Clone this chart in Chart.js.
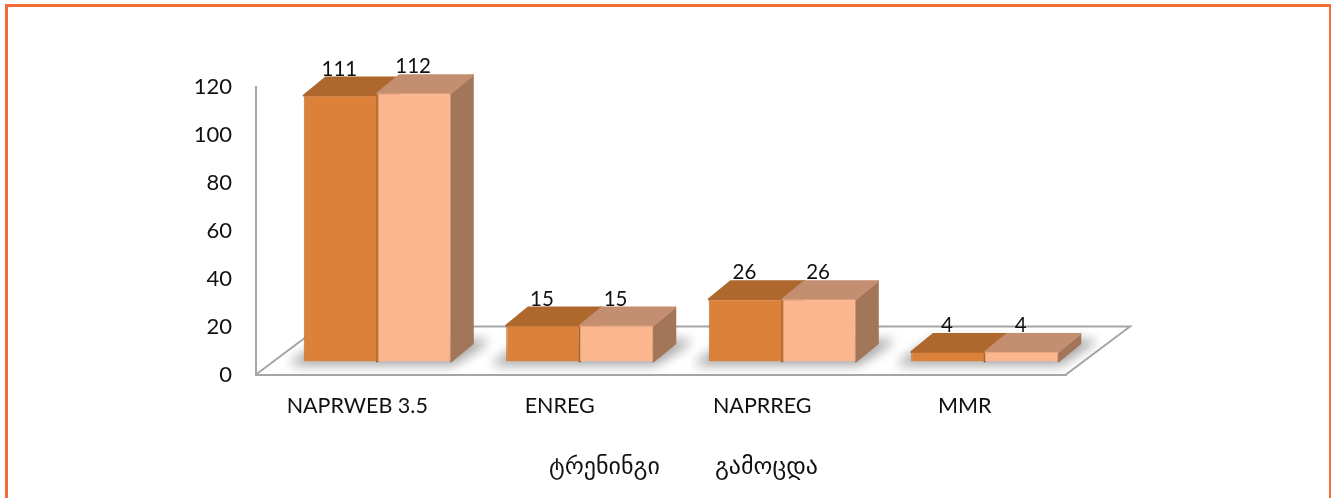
<!DOCTYPE html>
<html>
<head>
<meta charset="utf-8">
<script src="https://cdn.jsdelivr.net/npm/chart.js@4/dist/chart.umd.js"></script>
<style>
html,body{margin:0;padding:0;background:#fff;overflow:hidden}
#wrap{position:absolute;left:0;top:0;width:1331px;height:498px}
#frame{position:absolute;left:5px;top:4px;width:1326px;height:494px;border:solid #F26B38;border-width:3px 2px 0 3px;box-sizing:border-box;pointer-events:none}
canvas{position:absolute;left:0;top:0}
</style>
</head>
<body>
<div id="wrap"><canvas id="c" width="1331" height="498"></canvas><div id="frame"></div></div>
<script>
const categories = ["NAPRWEB 3.5", "ENREG", "NAPRREG", "MMR"];
const trainingValues = [111, 15, 26, 4];
const examValues = [112, 15, 26, 4];
const seriesNames = ["ტრენინგი", "გამოცდა"];
const yTicks = [0, 20, 40, 60, 80, 100, 120];

const GREY = "#A6A6A6";
const FACES = [
  {front:"#DB813A", edge:"#B96D30", top:"#AE672C", side:"#A0602B"},
  {front:"#FBB68F", edge:"#EDA67F", top:"#C48F70", side:"#A37559"}
];
const SHIFT = {x:20, y:-13};
const DEPTH = {x:22, y:18};
const TEXT_FONT = "Lato, Carlito, sans-serif";

function poly(ctx, pts, fill){
  ctx.beginPath();
  pts.forEach((p,i)=> i ? ctx.lineTo(p[0],p[1]) : ctx.moveTo(p[0],p[1]));
  ctx.closePath();
  ctx.fillStyle = fill;
  ctx.strokeStyle = fill;
  ctx.lineWidth = 2;
  ctx.lineJoin = "round";
  ctx.fill();
  ctx.stroke();
}

const bars3d = {
  id:"bars3d",
  beforeInit(chart){
    const fit = chart.legend.fit;
    chart.legend.fit = function(){ fit.call(this); this.height = 61.5; };
  },
  afterLayout(chart){
    chart.legend.left = 325;
    chart.legend.right = 1030;
    chart.legend.top = 413;
  },
  beforeDatasetsDraw(chart){
    const ctx = chart.ctx, a = chart.chartArea;
    // floor
    ctx.save();
    ctx.strokeStyle = GREY;
    ctx.lineWidth = 2;
    ctx.beginPath();
    ctx.moveTo(a.left, a.bottom);
    ctx.lineTo(a.left+64, a.bottom-48);
    ctx.lineTo(a.right+64, a.bottom-48);
    ctx.lineTo(a.right, a.bottom);
    ctx.stroke();
    ctx.restore();

    ctx.save();
    ctx.translate(SHIFT.x, SHIFT.y);
    const m0 = chart.getDatasetMeta(0).data, m1 = chart.getDatasetMeta(1).data;
    // soft floor shadows
    m0.forEach((el,i)=>{
      const l = el.x-el.width/2, r = m1[i].x+m1[i].width/2, b = el.base;
      ctx.save();
      ctx.filter = "blur(6px)";
      poly(ctx, [[l-12,b+2],[r+2,b+2],[r+DEPTH.x+14,b-DEPTH.y-2],[l+DEPTH.x,b-DEPTH.y-2]], "rgba(70,70,70,0.5)");
      ctx.restore();
    });
    // depth faces
    [m0,m1].forEach((meta,s)=>{
      meta.forEach(el=>{
        const l = el.x-el.width/2, r = el.x+el.width/2, t = el.y, b = el.base;
        poly(ctx, [[r,t],[r+DEPTH.x,t-DEPTH.y],[r+DEPTH.x,b-DEPTH.y],[r,b]], FACES[s].side);
        poly(ctx, [[l,t],[l+DEPTH.x,t-DEPTH.y],[r+DEPTH.x,t-DEPTH.y],[r,t]], FACES[s].top);
      });
    });
  },
  afterDatasetsDraw(chart){
    const ctx = chart.ctx;
    ctx.restore();
    ctx.save();
    ctx.font = "20.5px " + TEXT_FONT;
    ctx.fillStyle = "#111";
    ctx.textAlign = "center";
    ctx.textBaseline = "middle";
    chart.data.datasets.forEach((ds,s)=>{
      chart.getDatasetMeta(s).data.forEach((el,i)=>{
        ctx.fillText(String(ds.data[i]), el.x+SHIFT.x-1, el.y+SHIFT.y-26.5);
      });
    });
    ctx.restore();
  }
};

new Chart(document.getElementById("c"), {
  type:"bar",
  data:{
    labels:categories,
    datasets:[
      {label:seriesNames[0], data:trainingValues, backgroundColor:FACES[0].front, borderColor:FACES[0].edge, borderWidth:1, borderRadius:1},
      {label:seriesNames[1], data:examValues, backgroundColor:FACES[1].front, borderColor:FACES[1].edge, borderWidth:1, borderRadius:1}
    ]
  },
  options:{
    responsive:false,
    animation:false,
    layout:{padding:{left:0,right:265,top:87,bottom:12}},
    datasets:{bar:{categoryPercentage:0.728, barPercentage:0.995}},
    scales:{
      x:{
        grid:{display:false, drawTicks:false},
        border:{display:true, color:GREY, width:2},
        ticks:{padding:19, color:"#111", font:{family:TEXT_FONT,size:21.5}, maxRotation:0},
        afterFit(s){s.height=50;}
      },
      y:{
        min:0,max:120,
        afterBuildTicks(s){s.ticks=yTicks.map(v=>({value:v}));},
        grid:{display:false, drawTicks:false},
        border:{display:true, color:GREY, width:2},
        ticks:{padding:24, color:"#111", font:{family:TEXT_FONT,size:22}},
        afterFit(s){s.width=256;}
      }
    },
    plugins:{
      tooltip:{enabled:false},
      legend:{
        position:"bottom",
        labels:{
          boxWidth:0, padding:43, color:"#111",
          font:{family:"'DejaVu Sans'",size:24},
          generateLabels(chart){
            return Chart.defaults.plugins.legend.labels.generateLabels(chart).map(l=>Object.assign(l,{lineWidth:0,fillStyle:"rgba(0,0,0,0)",strokeStyle:"rgba(0,0,0,0)"}));
          }
        }
      }
    }
  },
  plugins:[bars3d]
});
</script>
</body>
</html>
